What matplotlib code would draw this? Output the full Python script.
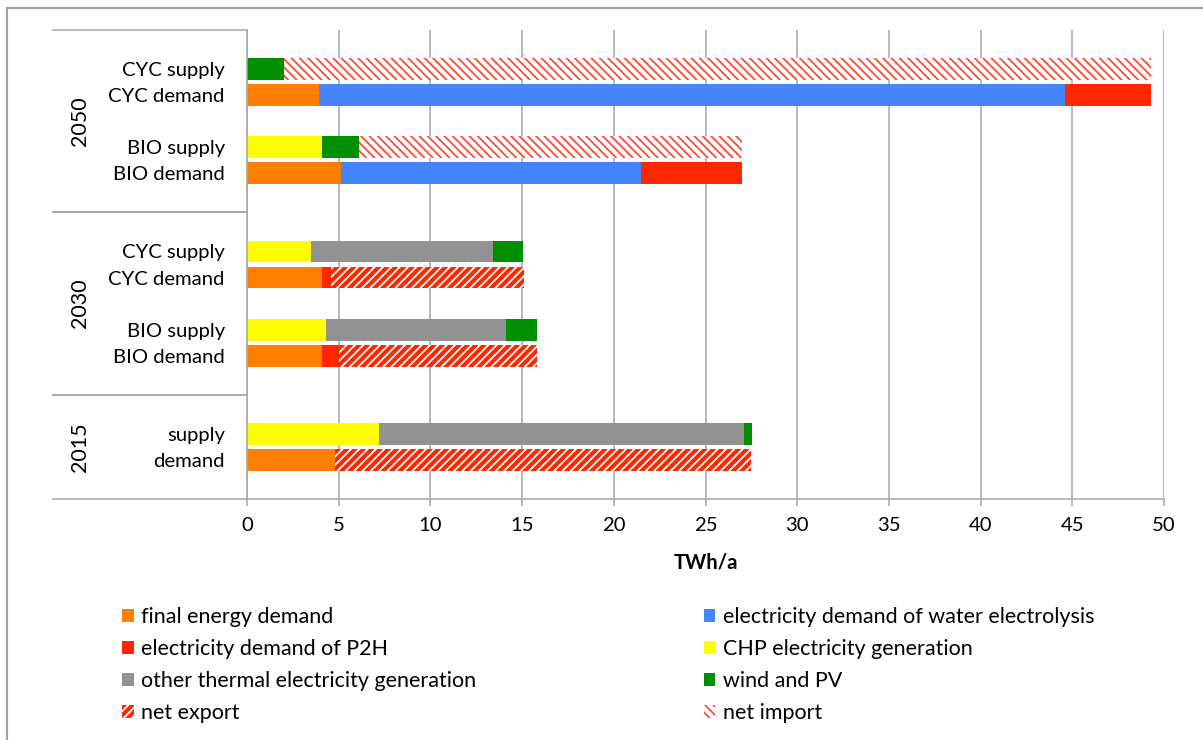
import numpy as np
import matplotlib
matplotlib.use('Agg')
import matplotlib.pyplot as plt
from matplotlib.lines import Line2D
import matplotlib.transforms as mtransforms

plt.rcParams['font.family'] = ['Lato', 'DejaVu Sans']
plt.rcParams['hatch.linewidth'] = 1.3

# Rows from bottom to top, with their category slot (blank slots separate the groups)
rows = ['demand', 'supply', 'BIO demand', 'BIO supply', 'CYC demand', 'CYC supply',
        'BIO demand', 'BIO supply', 'CYC demand', 'CYC supply']
slots = [1, 2, 5, 6, 8, 9, 12, 13, 15, 16]
years = ['2015', '2030', '2050']
year_bounds = [(-0.5, 3.5), (3.5, 10.5), (10.5, 17.5)]

# TWh/a per row
final_energy = [4.8, 0, 4.1, 0, 4.1, 0, 5.1, 0, 3.9, 0]
electrolysis = [0, 0, 0, 0, 0, 0, 16.4, 0, 40.7, 0]
p2h = [0, 0, 0.9, 0, 0.5, 0, 5.5, 0, 4.7, 0]
chp = [0, 7.2, 0, 4.3, 0, 3.5, 0, 4.1, 0, 0]
other_thermal = [0, 19.9, 0, 9.8, 0, 9.9, 0, 0, 0, 0]
wind_pv = [0, 0.45, 0, 1.7, 0, 1.65, 0, 2.0, 0, 2.0]
net_export = [22.7, 0, 10.8, 0, 10.5, 0, 0, 0, 0, 0]
net_import = [0, 0, 0, 0, 0, 0, 0, 20.9, 0, 47.3]

series = [
    ('final energy demand', final_energy, dict(color='#FF8000')),
    ('electricity demand of water electrolysis', electrolysis, dict(color='#4285FF')),
    ('electricity demand of P2H', p2h, dict(color='#FF2600')),
    ('CHP electricity generation', chp, dict(color='#FFFF00')),
    ('other thermal electricity generation', other_thermal, dict(color='#929292')),
    ('wind and PV', wind_pv, dict(color='#008F00')),
    ('net export', net_export, dict(facecolor='#FF2600', edgecolor='white', hatch='////')),
    ('net import', net_import, dict(facecolor='white', edgecolor='#FF4A3A', hatch='\\\\\\\\')),
]

fig = plt.figure(figsize=(12.03, 7.40), dpi=100)
ax = fig.add_axes([247 / 1203, 1 - 499 / 740, 917 / 1203, 469 / 740])

grid_c = '#A6A6A6'
left = np.zeros(len(rows))
handles = {}
for name, vals, style in series:
    vals = np.array(vals, dtype=float)
    bars = ax.barh(slots, vals, left=left, height=0.84, linewidth=0, **style)
    handles[name] = bars
    left += vals

ax.set_xlim(0, 50)
ax.set_ylim(-0.5, 17.5)
ax.set_xticks(np.arange(0, 51, 5))
ax.set_yticks(slots)
ax.set_yticklabels(rows, fontsize=14.6)
ax.tick_params(axis='y', length=0, pad=16)
ax.tick_params(axis='x', length=5, width=1.1, color=grid_c, labelsize=14.6, pad=8)
ax.xaxis.grid(True, color=grid_c, linewidth=1.1)
ax.set_axisbelow(True)
for s in ['top', 'right']:
    ax.spines[s].set_visible(False)
for s in ['left', 'bottom']:
    ax.spines[s].set_color(grid_c)
    ax.spines[s].set_linewidth(1.1)
ax.set_xlabel('TWh/a', fontsize=14.6, fontweight='bold', labelpad=13)

# Group separators and year labels on the left
trans = mtransforms.blended_transform_factory(ax.transAxes, ax.transData)
x_left = (53 - 247) / 917
for lo, hi in year_bounds:
    for yb in (lo, hi):
        ax.plot([x_left, 0], [yb, yb], color=grid_c, lw=1.1, transform=trans, clip_on=False)
for yr, (lo, hi) in zip(years, year_bounds):
    ax.text((80 - 247) / 917, (lo + hi) / 2, yr, rotation=90, fontsize=15.5,
            ha='center', va='center', transform=trans)

# Outer frame (left and top edges)
fig.add_artist(Line2D([7 / 1203, 7 / 1203], [0, 1 - 8 / 740], color='#A0A0A0', lw=1.5))
fig.add_artist(Line2D([7 / 1203, 1], [1 - 8 / 740, 1 - 8 / 740], color='#A0A0A0', lw=1.5))

order = ['final energy demand', 'electricity demand of P2H',
         'other thermal electricity generation', 'net export',
         'electricity demand of water electrolysis', 'CHP electricity generation',
         'wind and PV', 'net import']
leg = fig.legend([handles[n] for n in order], order, ncol=2, loc='upper left',
                 bbox_to_anchor=(103 / 1203, 1 - 588 / 740), frameon=False, fontsize=15.5,
                 handlelength=0.55, handleheight=0.55, handletextpad=0.33,
                 labelspacing=0.55, columnspacing=10.55)

fig.savefig('out.png', dpi=100)
